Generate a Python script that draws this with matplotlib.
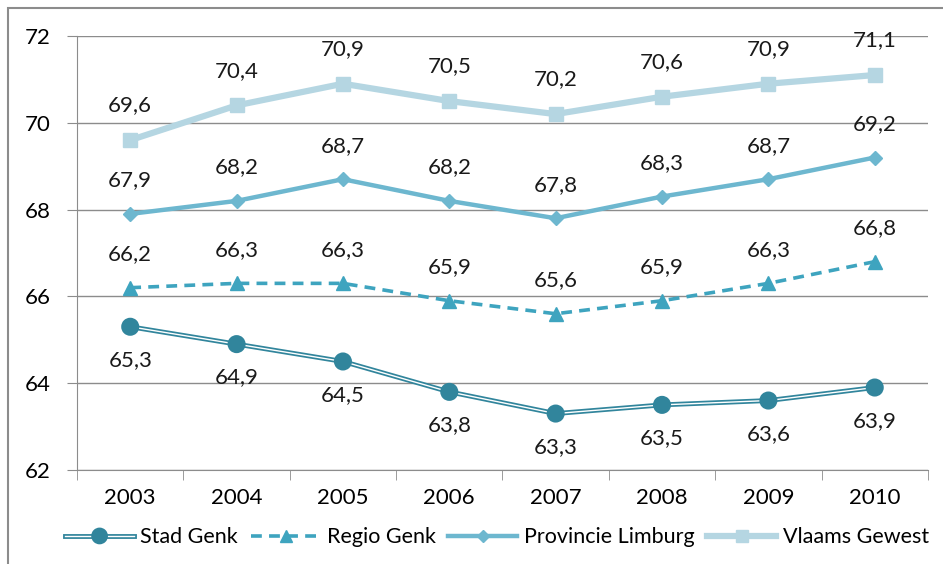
import matplotlib.pyplot as plt
import matplotlib.patheffects as pe
from matplotlib.patches import Rectangle

plt.rcParams['font.family'] = ['Lato', 'DejaVu Sans']

years = ['2003', '2004', '2005', '2006', '2007', '2008', '2009', '2010']
stad_genk = [65.3, 64.9, 64.5, 63.8, 63.3, 63.5, 63.6, 63.9]
regio_genk = [66.2, 66.3, 66.3, 65.9, 65.6, 65.9, 66.3, 66.8]
prov_limburg = [67.9, 68.2, 68.7, 68.2, 67.8, 68.3, 68.7, 69.2]
vlaams_gewest = [69.6, 70.4, 70.9, 70.5, 70.2, 70.6, 70.9, 71.1]

x = list(range(len(years)))

fig = plt.figure(figsize=(9.43, 5.64), dpi=100)
ax = fig.add_axes([0.0817, 0.1667, 0.9023, 0.7695])

# outer frame
fig.patches.append(Rectangle((0.009, -0.1), 1.2, 1.086, transform=fig.transFigure,
                             fill=False, edgecolor='#8c8c8c', linewidth=1.5))

ax.plot(x, vlaams_gewest, color='#b5d6e2', lw=4.5, marker='s', ms=9.5,
        label='Vlaams Gewest', zorder=3)
ax.plot(x, prov_limburg, color='#6db7cf', lw=3.2, marker='D', ms=7,
        label='Provincie Limburg', zorder=4)
ax.plot(x, regio_genk, color='#3ea4bf', lw=2.6, ls=(0, (3, 2)), marker='^', ms=9.5,
        label='Regio Genk', zorder=5)
ax.plot(x, stad_genk, color='white', lw=1.0, marker='o', ms=9.5,
        markerfacecolor='#31859c', markeredgecolor='#31859c',
        path_effects=[pe.Stroke(linewidth=3.5, foreground='#31859c'), pe.Normal()],
        label='Stad Genk', zorder=6)

for series, dy in [(vlaams_gewest, 25), (prov_limburg, 24), (regio_genk, 24), (stad_genk, -24)]:
    for xi, v in zip(x, series):
        ax.annotate(f'{v:.1f}'.replace('.', ','), (xi, v), xytext=(0, dy),
                    textcoords='offset points', ha='center', va='center',
                    fontsize=16, color='#1a1a1a')

ax.set_ylim(62, 72)
ax.set_xlim(-0.5, 7.5)
ax.set_yticks([62, 64, 66, 68, 70, 72])
ax.set_xticks(x)
ax.set_xticklabels(years)
ax.set_xticks([i - 0.5 for i in range(9)], minor=True)
ax.tick_params(axis='x', which='major', length=0, pad=13, labelsize=16)
ax.tick_params(axis='x', which='minor', length=7, color='#8c8c8c', direction='out')
ax.tick_params(axis='y', length=7, color='#8c8c8c', labelsize=16, pad=12)
ax.yaxis.grid(True, color='#8c8c8c', lw=1)
ax.set_axisbelow(True)
for s in ['top', 'right']:
    ax.spines[s].set_visible(False)
for s in ['left', 'bottom']:
    ax.spines[s].set_color('#8c8c8c')

h, l = ax.get_legend_handles_labels()
order = [3, 2, 1, 0]
fig.legend([h[i] for i in order], [l[i] for i in order], loc='center',
           bbox_to_anchor=(0.527, 0.047), ncol=4, frameon=False, fontsize=15.5,
           handlelength=3.2, handletextpad=0.3, columnspacing=0.6, markerscale=0.9)

plt.savefig('out.png', dpi=100)
